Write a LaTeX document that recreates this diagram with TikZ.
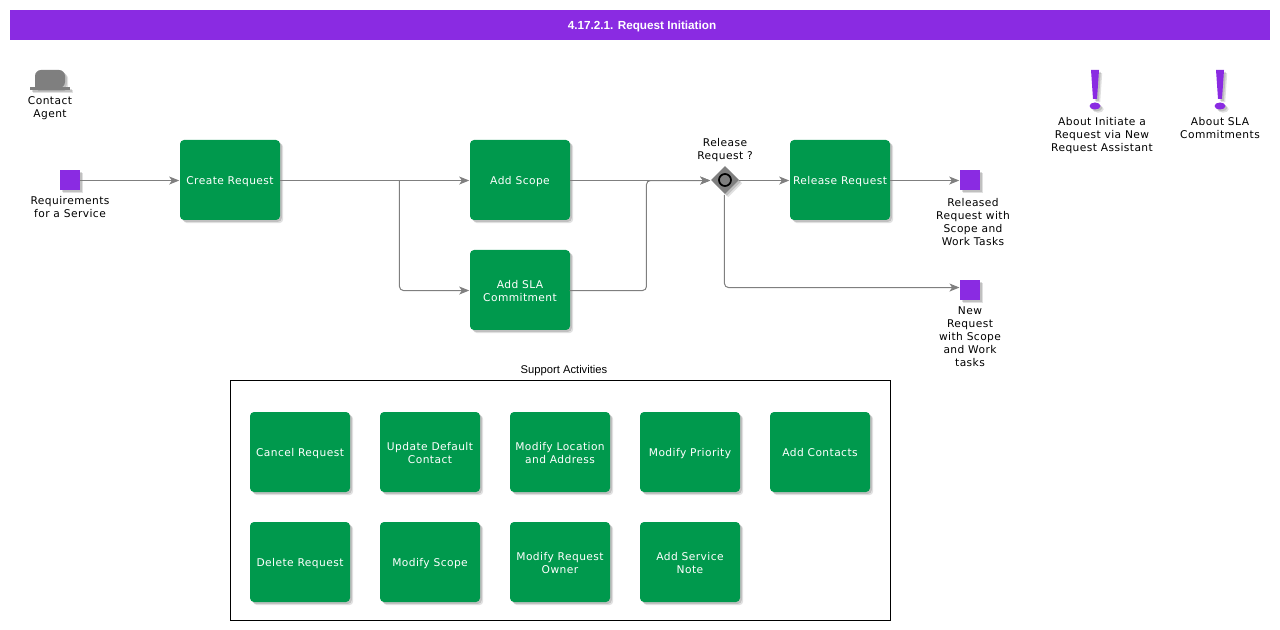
\documentclass[tikz,border=0pt]{standalone}
\usepackage{fontspec}
\setmainfont[LetterSpace=4]{DejaVu Sans}
\newfontfamily\arialfont{Liberation Sans}
\usetikzlibrary{arrows.meta,shapes,shadows}
\definecolor{barcol}{HTML}{8A2BE2}
\definecolor{taskcol}{HTML}{00994D}
\definecolor{linecol}{HTML}{7F7F7F}
\tikzstyle{softshadow}=[drop shadow={shadow xshift=2.4pt,shadow yshift=-2.4pt,fill=black,opacity=0.12},drop shadow={shadow xshift=1.4pt,shadow yshift=-1.4pt,fill=black,opacity=0.14}]
\tikzstyle{task}=[rectangle,rounded corners=3pt,fill=taskcol,text=white,minimum width=75pt,minimum height=60pt,inner sep=0pt,align=center,softshadow,font=\fontsize{8pt}{9.75pt}\selectfont]
\tikzstyle{eventbox}=[rectangle,fill=barcol,minimum size=15pt,inner sep=0pt,softshadow]
\tikzstyle{caption}=[align=center,inner sep=0pt,font=\fontsize{8pt}{9.75pt}\selectfont]
\tikzstyle{gateway}=[diamond,fill=linecol,minimum size=21pt,inner sep=0pt,softshadow]
\tikzstyle{flow}=[draw=linecol,line width=0.75pt,-{Stealth[length=7.5pt,width=6pt,inset=2pt]},rounded corners=3pt,transform canvas={xshift=-0.4pt,yshift=-0.4pt}]
\newcommand{\tasktext}[1]{\rule{0pt}{9.8pt}#1\strut}

\begin{document}
\begin{tikzpicture}[x=0.75pt,y=-0.75pt]
      \useasboundingbox (0,0) rectangle (1280,630);

      % title bar
      \node[fill=barcol,minimum width=945pt,minimum height=22.5pt,inner sep=0pt] (title) at (640,25) {};
      \node[text=white,inner sep=0pt,font=\arialfont\bfseries\fontsize{8.8pt}{11pt}\selectfont] (titletext) at (642,26.2) {4.17.2.1. Request Initiation};

      % hat
      \fill[softshadow,linecol,rounded corners=4.5pt] (35,88) -- (35,70) -- (65,70) -- (65,88) [sharp corners] -- cycle;
      \fill[softshadow,linecol] (30,87) rectangle (70,90);
      \node[caption] (agent) at (50,108.5) {Contact\\Agent};

      % exclamation marks
      \foreach \cx/\id in {1095/initiate,1220/commit}{
        \fill[softshadow,barcol] (\cx-4,70) -- (\cx+4,70) -- (\cx+2,99) -- (\cx-2,99) -- cycle;
        \fill[softshadow,barcol] (\cx,106) ellipse (5.5 and 3.5);
      }
      \node[caption] (initiate) at (1102,136) {About Initiate a\\Request via New\\Request Assistant};
      \node[caption] (commit) at (1220,128) {About SLA\\Commitments};

      % main flow
      \node[eventbox] (req) at (70,180) {};
      \node[caption] (reqtext) at (70,207.5) {Requirements\\for a Service};
      \node[task] (create) at (230,180) {\tasktext{Create Request}};
      \node[task] (scope) at (520,180) {\tasktext{Add Scope}};
      \node[task] (sla) at (520,290) {\tasktext{Add SLA\\Commitment}};
      \node[gateway] (gate) at (725,180) {};
      \draw[black,line width=1.3pt] (gate.center) circle (6);
      \node[caption] (gatetext) at (725,150) {Release\\Request ?};
      \node[task] (release) at (840,180) {\tasktext{Release Request}};
      \node[eventbox] (released) at (970,180) {};
      \node[caption] (releasedtext) at (973,222.5) {Released\\Request with\\Scope and\\Work Tasks};
      \node[eventbox] (newreq) at (970,290) {};
      \node[caption] (newtext) at (970,337) {New\\Request\\with Scope\\and Work\\tasks};

      \coordinate (branch) at (400,180);
      \coordinate (merge) at (647,180);
      \coordinate (newin) at (960,287);
      \draw[flow] (req) -- (create);
      \draw[flow] (create) -- (scope);
      \draw[flow] (branch) |- (sla);
      \draw[flow] (scope) -- (gate);
      \draw[flow] (sla) -| (merge) -- (gate);
      \draw[flow] (gate) -- (release);
      \draw[flow] (release) -- (released);
      \draw[flow] (gate) |- (newin);

      % support activities
      \node[draw=black,line width=0.75pt,minimum width=495pt,minimum height=180pt,inner sep=0pt] (support) at (560,500.5) {};
      \node[inner sep=0pt,font=\arialfont\fontsize{8.4pt}{10pt}\selectfont] (supporttext) at (564,370.5) {Support Activities};
      \foreach \cx/\cy/\id/\txt in {300/452/cancel/Cancel Request,430/452/contact/{Update Default\\Contact},560/452/location/{Modify Location\\and Address},690/452/priority/Modify Priority,820/452/contacts/Add Contacts,300/562/delete/Delete Request,430/562/modscope/Modify Scope,560/562/owner/{Modify Request\\Owner},690/562/note/{Add Service\\Note}}{
        \node[task] (\id) at (\cx,\cy) {\tasktext{\txt}};
      }

    \end{tikzpicture}
\end{document}
